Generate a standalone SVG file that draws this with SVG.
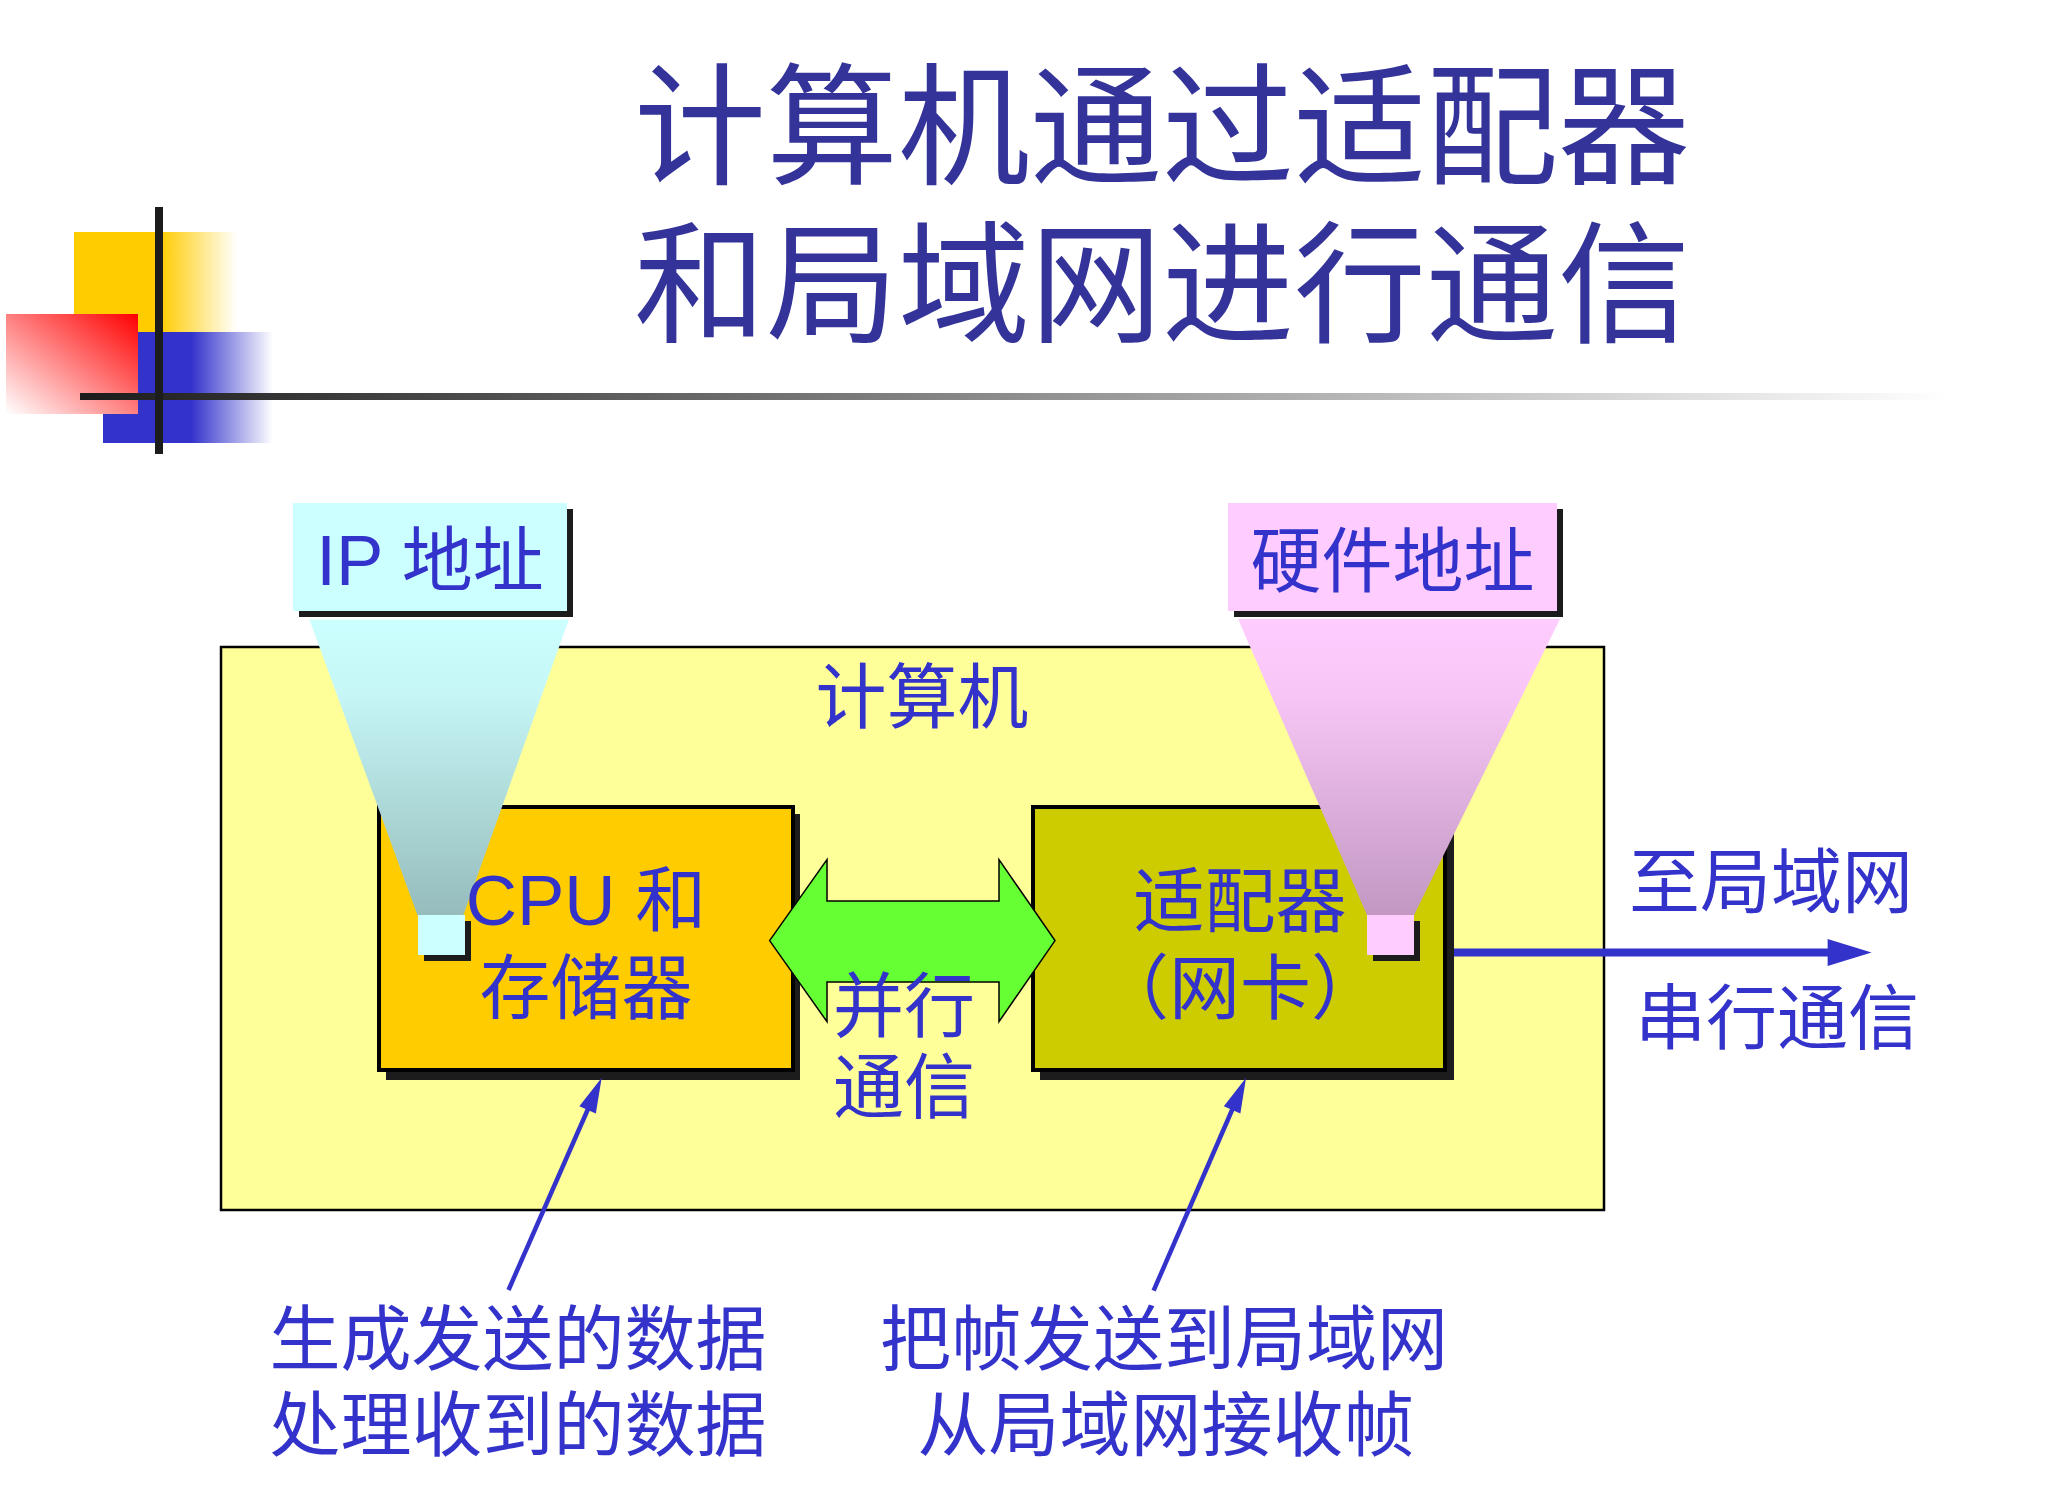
<svg xmlns="http://www.w3.org/2000/svg" width="2056" height="1511" viewBox="0 0 2056 1511">
<defs>
<style>
.title{font-family:"Noto Sans CJK SC","Liberation Sans",sans-serif;font-size:132px;fill:#333399;text-anchor:middle}
.lbl{font-family:"Liberation Sans","Noto Sans CJK SC",sans-serif;font-size:71px;fill:#3333CC;text-anchor:middle}
.shadow{fill:#1C1C1C}
.conn{stroke:#3333CC;fill:none}
</style>
<linearGradient id="gYel" x1="0" y1="0" x2="1" y2="0"><stop offset="0.53" stop-color="#FFCC00"/><stop offset="1" stop-color="#FFFFFF"/></linearGradient>
<linearGradient id="gBlu" x1="0" y1="0" x2="1" y2="0"><stop offset="0.52" stop-color="#3333CC"/><stop offset="1" stop-color="#FFFFFF"/></linearGradient>
<linearGradient id="gRed" x1="1" y1="0" x2="0" y2="1"><stop offset="0" stop-color="#FF0000"/><stop offset="1" stop-color="#FFFFFF"/></linearGradient>
<linearGradient id="gLine" gradientUnits="userSpaceOnUse" x1="80" y1="0" x2="1950" y2="0"><stop offset="0" stop-color="#1C1C1C"/><stop offset="1" stop-color="#FFFFFF"/></linearGradient>
<linearGradient id="gCyan" x1="0" y1="0" x2="0" y2="1"><stop offset="0" stop-color="#CCFFFF"/><stop offset="0.25" stop-color="#C6F6F6"/><stop offset="1" stop-color="#96BCBC"/></linearGradient>
<linearGradient id="gPink" x1="0" y1="0" x2="0" y2="1"><stop offset="0" stop-color="#FFCCFF"/><stop offset="0.25" stop-color="#F8C6F6"/><stop offset="1" stop-color="#C298C2"/></linearGradient>
<marker id="ahS" markerUnits="userSpaceOnUse" markerWidth="36" markerHeight="18" refX="1" refY="9" orient="auto" overflow="visible"><path d="M0,0 L35,9 L0,18 z" fill="#3333CC"/></marker>
<marker id="ahL" markerUnits="userSpaceOnUse" markerWidth="46" markerHeight="28" refX="1" refY="13.5" orient="auto" overflow="visible"><path d="M0,0 L44,13.5 L0,27 z" fill="#3333CC"/></marker>
</defs>
<rect width="2056" height="1511" fill="#FFFFFF"/>

<g id="decoration">
<rect x="74" y="232" width="163" height="101" fill="url(#gYel)"/>
<rect x="103" y="332" width="170" height="111" fill="url(#gBlu)"/>
<rect x="6" y="314" width="132" height="100" fill="url(#gRed)"/>
<rect x="80" y="393" width="1870" height="7" fill="url(#gLine)"/>
<rect x="155" y="207" width="8" height="247" fill="#1C1C1C"/>
</g>

<g id="title">
<text class="title" x="1162" y="174">计算机通过适配器</text>
<text class="title" x="1162" y="332">和局域网进行通信</text>
</g>

<g id="computer">
<rect x="221" y="647" width="1383" height="563" fill="#FFFF99" stroke="#000000" stroke-width="2.5"/>
<text class="lbl" x="922" y="722">计算机</text>
</g>

<g id="cpu">
<rect class="shadow" x="386" y="814" width="414" height="266"/>
<rect x="379" y="807" width="414" height="263" fill="#FFCC00" stroke="#000000" stroke-width="4"/>
</g>

<g id="adapter">
<rect class="shadow" x="1040" y="814" width="414" height="266"/>
<rect x="1033" y="807" width="412" height="263" fill="#CCCC00" stroke="#000000" stroke-width="4"/>
</g>

<g id="parallel">
<polygon points="769.6,940.6 827,859.6 827,901 999,901 999,859.6 1055,940.6 999,1021.7 999,982 827,982 827,1021.7" fill="#66FF33" stroke="#000000" stroke-width="1.5"/>
<text class="lbl" x="904" y="1031">并行</text>
<text class="lbl" x="904" y="1112">通信</text>
</g>

<g id="ip-address">
<rect class="shadow" x="299" y="509" width="274" height="108"/>
<rect x="293" y="503" width="274" height="108" fill="#CCFFFF"/>
<text class="lbl" x="430" y="585">IP 地址</text>
<polygon points="309.4,619.6 568.8,619.6 463.4,915 417.4,915" fill="url(#gCyan)"/>
<rect class="shadow" x="424" y="921" width="47" height="40"/>
<rect x="418" y="915" width="47" height="40" fill="#CCFFFF"/>
</g>

<g id="hw-address">
<rect class="shadow" x="1234" y="509" width="329" height="108"/>
<rect x="1228" y="503" width="329" height="108" fill="#FFCCFF"/>
<text class="lbl" x="1392.5" y="586">硬件地址</text>
<polygon points="1238,619 1560,619 1414,915 1367,915" fill="url(#gPink)"/>
<rect class="shadow" x="1373" y="921" width="47" height="40"/>
<rect x="1367" y="915" width="47" height="40" fill="#FFCCFF"/>
</g>

<g id="cpu-label">
<text class="lbl" x="586" y="925">CPU 和</text>
<text class="lbl" x="586" y="1013">存储器</text>
</g>

<g id="adapter-label">
<text class="lbl" x="1240" y="926">适配器</text>
<text class="lbl" x="1240" y="1013">（网卡）</text>
</g>

<g id="connectors">
<line class="conn" x1="1454" y1="952.5" x2="1828.6" y2="952.5" stroke-width="8" marker-end="url(#ahL)"/>
<line class="conn" x1="508.5" y1="1290" x2="588" y2="1109" stroke-width="4.5" marker-end="url(#ahS)"/>
<line class="conn" x1="1153.6" y1="1290.7" x2="1232.5" y2="1109" stroke-width="4.5" marker-end="url(#ahS)"/>
</g>

<g id="lan-label">
<text class="lbl" x="1771" y="907">至局域网</text>
<text class="lbl" x="1777" y="1043">串行通信</text>
</g>

<g id="cpu-note">
<text class="lbl" x="518" y="1364">生成发送的数据</text>
<text class="lbl" x="518" y="1450">处理收到的数据</text>
</g>

<g id="adapter-note">
<text class="lbl" x="1164" y="1364">把帧发送到局域网</text>
<text class="lbl" x="1166" y="1450">从局域网接收帧</text>
</g>
</svg>
